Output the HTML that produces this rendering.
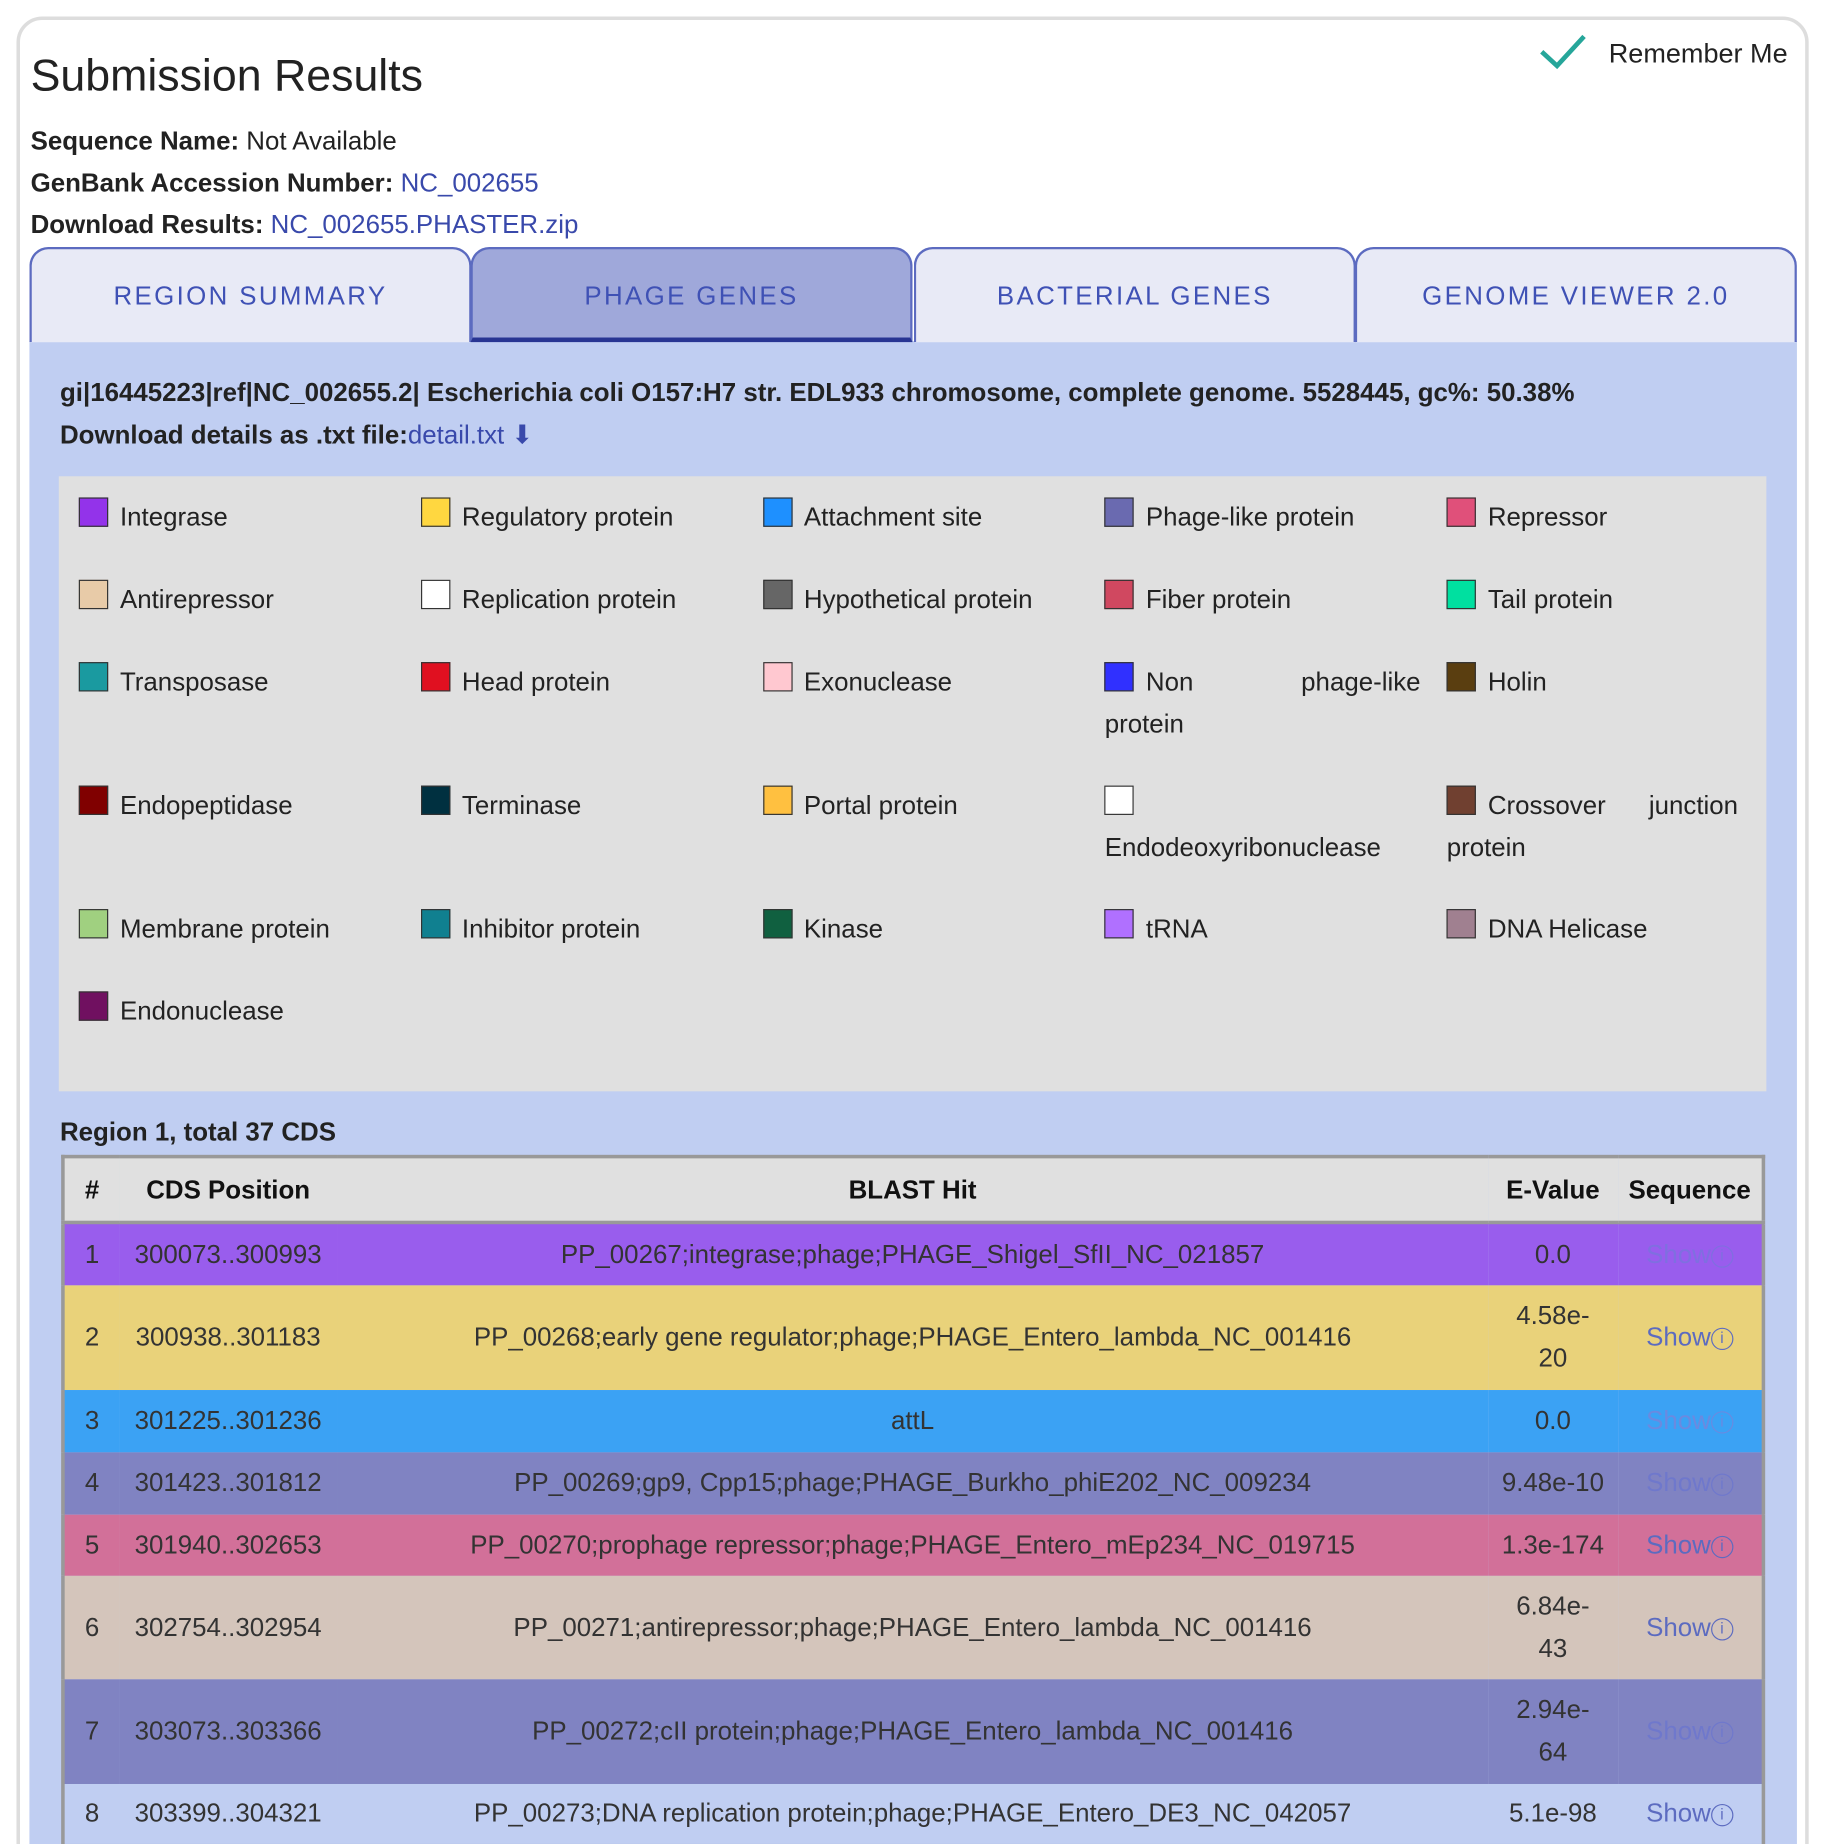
<!DOCTYPE html>
<html><head><meta charset="utf-8"><style>
*{box-sizing:border-box;margin:0;padding:0}
html,body{width:1824px;height:1844px;overflow:hidden;background:#fff}
#w{position:fixed;left:0;top:0;width:1824px;height:1844px;overflow:hidden}
#s{position:absolute;left:0;top:0;width:1568px;height:1568px;overflow:hidden;transform:scale(1.176,1.176);transform-origin:0 0;font-family:"Liberation Sans",sans-serif;color:#222}
.a{position:absolute;white-space:nowrap}
.card{position:absolute;left:14px;top:14px;width:1524px;height:1600px;border:3px solid #ddd;border-radius:22px}
.lbl{font-size:22px;line-height:26px}
.lbl b{font-weight:bold}
.lk{color:#3949ab}
.tab{position:absolute;top:210px;height:81px;width:376px;background:#e8eaf6;border:2px solid #5c6bc0;border-bottom:none;border-radius:16px 16px 0 0;color:#3f51b5;font-size:22px;letter-spacing:2px;text-align:center;line-height:80px}
.panel{position:absolute;left:25px;top:290px;width:1503px;height:1300px;background:#c0cef2}
.leg{position:absolute;left:50px;top:405px;width:1452px;height:523px;background:#e0e0e0}
.it{position:absolute;font-size:22px;line-height:36px;white-space:nowrap;color:#222}
.sq{position:absolute;width:25px;height:25px;border:1.5px solid #333}
table{position:absolute;left:52px;top:982px;width:1449px;border-collapse:collapse;border:3px solid #999;font-size:22px;color:#333}
th{background:#e0e0e0;height:56px;font-weight:bold;color:#111;border-bottom:3px solid #999}
td{text-align:center;line-height:36px}
.sh{color:#5c6bc0}
.i{display:inline-block;width:19px;height:19px;border:1.5px solid currentColor;border-radius:50%;font-size:13px;line-height:16px;vertical-align:2px;text-align:center}
</style></head><body><div id="w"><div id="s">
<div class="card"></div>
<div class="a" style="left:26px;top:44px;font-size:38px;color:#222">Submission Results</div>
<svg class="a" style="left:1308px;top:28px" width="42" height="32"><path d="M3 16 L16 28 L39 3" fill="none" stroke="#26a69a" stroke-width="4"/></svg>
<div class="a" style="left:1368px;top:32px;font-size:23px">Remember Me</div>
<div class="a lbl" style="left:26px;top:107px"><b>Sequence Name:</b> Not Available</div>
<div class="a lbl" style="left:26px;top:143px"><b>GenBank Accession Number:</b> <span class="lk">NC_002655</span></div>
<div class="a lbl" style="left:26px;top:178px"><b>Download Results:</b> <span class="lk">NC_002655.PHASTER.zip</span></div>
<div class="panel"></div>
<div class="tab" style="left:25px">REGION SUMMARY</div>
<div class="tab" style="left:400px;background:#9fa8da;border-bottom:4px solid #283593">PHAGE GENES</div>
<div class="tab" style="left:777px">BACTERIAL GENES</div>
<div class="tab" style="left:1152px">GENOME VIEWER 2.0</div>
<div class="a lbl" style="left:51px;top:321px;font-weight:bold">gi|16445223|ref|NC_002655.2| Escherichia coli O157:H7 str. EDL933 chromosome, complete genome. 5528445, gc%: 50.38%</div>
<div class="a lbl" style="left:51px;top:357px"><b>Download details as .txt file:</b><span class="lk">detail.txt ⬇</span></div>
<div class="leg"></div>
<div id="L"></div>
<div class="a lbl" style="left:51px;top:950px;font-weight:bold">Region 1, total 37 CDS</div>
<table>
<tr><th style="width:48px">#</th><th style="width:185px">CDS Position</th><th>BLAST Hit</th><th style="width:110px">E-Value</th><th style="width:124px">Sequence</th></tr>
<tr style="background:#995ded;height:53px"><td>1</td><td>300073..300993</td><td>PP_00267;integrase;phage;PHAGE_Shigel_SfII_NC_021857</td><td>0.0</td><td class="sh" style="color:#7f6fe0">Show<span class="i">i</span></td></tr>
<tr style="background:#e9d27a;height:89px"><td>2</td><td>300938..301183</td><td>PP_00268;early gene regulator;phage;PHAGE_Entero_lambda_NC_001416</td><td>4.58e-<br>20</td><td class="sh">Show<span class="i">i</span></td></tr>
<tr style="background:#3ba2f4;height:53px"><td>3</td><td>301225..301236</td><td>attL</td><td>0.0</td><td class="sh" style="color:#6a8ae0">Show<span class="i">i</span></td></tr>
<tr style="background:#8083c2;height:53px"><td>4</td><td>301423..301812</td><td>PP_00269;gp9, Cpp15;phage;PHAGE_Burkho_phiE202_NC_009234</td><td>9.48e-10</td><td class="sh" style="color:#6f78cc">Show<span class="i">i</span></td></tr>
<tr style="background:#d27099;height:52px"><td>5</td><td>301940..302653</td><td>PP_00270;prophage repressor;phage;PHAGE_Entero_mEp234_NC_019715</td><td>1.3e-174</td><td class="sh">Show<span class="i">i</span></td></tr>
<tr style="background:#d4c5bb;height:88px"><td>6</td><td>302754..302954</td><td>PP_00271;antirepressor;phage;PHAGE_Entero_lambda_NC_001416</td><td>6.84e-<br>43</td><td class="sh">Show<span class="i">i</span></td></tr>
<tr style="background:#8083c2;height:89px"><td>7</td><td>303073..303366</td><td>PP_00272;cII protein;phage;PHAGE_Entero_lambda_NC_001416</td><td>2.94e-<br>64</td><td class="sh" style="color:#6f78cc">Show<span class="i">i</span></td></tr>
<tr style="background:#c0cef2;height:53px"><td>8</td><td>303399..304321</td><td>PP_00273;DNA replication protein;phage;PHAGE_Entero_DE3_NC_042057</td><td>5.1e-98</td><td class="sh">Show<span class="i">i</span></td></tr>
</table>
</div></div>
<script>
var d=[
[0,0,"#9333ea","Integrase"],[1,0,"#ffd740","Regulatory protein"],[2,0,"#1e90ff","Attachment site"],[3,0,"#6a6ab0","Phage-like protein"],[4,0,"#e0507a","Repressor"],
[0,1,"#e8cba8","Antirepressor"],[1,1,"#ffffff","Replication protein"],[2,1,"#666666","Hypothetical protein"],[3,1,"#d04860","Fiber protein"],[4,1,"#00e0a0","Tail protein"],
[0,2,"#1a9aa0","Transposase"],[1,2,"#e01020","Head protein"],[2,2,"#ffc8d0","Exonuclease"],[3,2,"#3030ff","Non&nbsp;&nbsp;&nbsp;&nbsp;&nbsp;&nbsp;&nbsp;&nbsp;&nbsp;&nbsp;&nbsp;&nbsp;&nbsp;&nbsp;&nbsp;phage-like",1,"protein"],[4,2,"#5a3e10","Holin"],
[0,3,"#800000","Endopeptidase"],[1,3,"#003040","Terminase"],[2,3,"#ffc040","Portal protein"],[3,3,"#ffffff","",1,"Endodeoxyribonuclease"],[4,3,"#704030","Crossover&nbsp;&nbsp;&nbsp;&nbsp;&nbsp;&nbsp;junction",1,"protein"],
[0,4,"#a0d080","Membrane protein"],[1,4,"#108090","Inhibitor protein"],[2,4,"#106040","Kinase"],[3,4,"#b070ff","tRNA"],[4,4,"#a08090","DNA Helicase"],
[0,5,"#701060","Endonuclease"]];
var ys=[422,492,562,667,772,842],h="";
d.forEach(function(e){var x=67+e[0]*290.8,y=ys[e[1]];
h+='<div class="sq" style="left:'+x+'px;top:'+(y+1)+'px;background:'+e[2]+'"></div>';
h+='<div class="it" style="left:'+(x+35)+'px;top:'+y+'px">'+e[3]+'</div>';
if(e[4])h+='<div class="it" style="left:'+x+'px;top:'+(y+36)+'px">'+e[5]+'</div>';});
document.getElementById("L").innerHTML=h;
</script>
</body></html>
